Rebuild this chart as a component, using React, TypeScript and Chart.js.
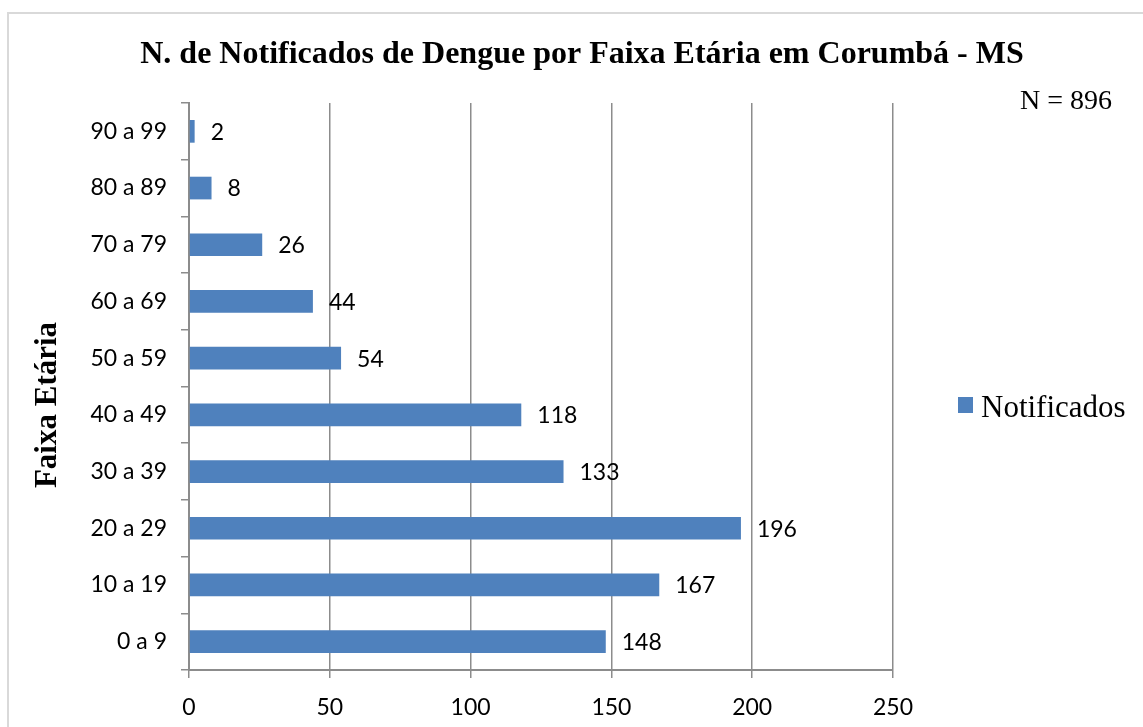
import React, { useEffect, useRef } from "react";
import { Chart, registerables } from "chart.js";

Chart.register(...registerables);

const categories = ["0 a 9", "10 a 19", "20 a 29", "30 a 39", "40 a 49", "50 a 59", "60 a 69", "70 a 79", "80 a 89", "90 a 99"];
const notificados = [148, 167, 196, 133, 118, 54, 44, 26, 8, 2];
const seriesLabel = "Notificados";
const titleText = "N. de Notificados de Dengue por Faixa Etária em Corumbá - MS";
const nText = "N = 896";
const yTitle = "Faixa Etária";
const xMin = 0;
const xMax = 250;
const xStep = 50;

const BAR = "#4F81BD";
const GRID = "#8C8C8C";
const TICKFONT = "Lato, 'Open Sans', sans-serif";
const SERIF = "'Liberation Serif', 'Times New Roman', serif";

const decor = {
  id: "decor",
  beforeDraw(chart: any) {
    const ctx = chart.ctx;
    ctx.save();
    ctx.fillStyle = "#ffffff";
    ctx.fillRect(0, 0, chart.width, chart.height);
    ctx.strokeStyle = "#D9D9D9";
    ctx.lineWidth = 2;
    ctx.beginPath();
    ctx.moveTo(8, chart.height + 5);
    ctx.lineTo(8, 13);
    ctx.lineTo(chart.width + 5, 13);
    ctx.stroke();
    ctx.restore();
  },
  afterDraw(chart: any) {
    const ctx = chart.ctx;
    ctx.save();
    // title
    ctx.fillStyle = "#000";
    ctx.font = `bold 32px ${SERIF}`;
    ctx.textAlign = "center";
    ctx.textBaseline = "alphabetic";
    ctx.fillText(titleText, 582, 63);
    // N = 896
    ctx.font = `28px ${SERIF}`;
    ctx.textAlign = "right";
    ctx.fillText(nText, 1112, 109);
    // legend
    const ds = chart.data.datasets[0];
    ctx.fillStyle = ds.backgroundColor;
    ctx.fillRect(958, 397, 15, 16);
    ctx.fillStyle = "#000";
    ctx.font = `31px ${SERIF}`;
    ctx.textAlign = "left";
    ctx.fillText(ds.label, 981, 417);
    // y title
    ctx.save();
    ctx.translate(56, 405);
    ctx.rotate(-Math.PI / 2);
    ctx.font = `bold 31px ${SERIF}`;
    ctx.textAlign = "center";
    ctx.fillText(yTitle, 0, 0);
    ctx.restore();
    // data labels
    const meta = chart.getDatasetMeta(0);
    ctx.font = `23px ${TICKFONT}`;
    ctx.textAlign = "left";
    ctx.textBaseline = "middle";
    meta.data.forEach((bar: any, i: number) => {
      ctx.fillText(String(ds.data[i]), bar.x + 16, bar.y + 1);
    });
    ctx.restore();
  },
};

export default function App() {
  const ref = useRef<HTMLCanvasElement | null>(null);
  useEffect(() => {
    if (!ref.current) return;
    const chart = new Chart(ref.current, {
      type: "bar",
      data: {
        labels: categories,
        datasets: [
          {
            label: seriesLabel,
            data: notificados,
            backgroundColor: BAR,
            borderWidth: 0,
            categoryPercentage: 1,
            barPercentage: 0.4,
          },
        ],
      },
      options: {
        indexAxis: "y",
        responsive: false,
        animation: false,
        layout: { padding: { top: 103, right: 250, left: 0, bottom: 0 } },
        plugins: {
          legend: { display: false },
          title: { display: false },
          tooltip: { enabled: false },
        },
        scales: {
          x: {
            type: "linear",
            min: xMin,
            max: xMax,
            ticks: { stepSize: xStep, color: "#000", font: { family: TICKFONT, size: 23 }, padding: 16 },
            grid: { color: GRID, lineWidth: 1.5, tickLength: 8, drawOnChartArea: true },
            border: { color: GRID, width: 2 },
            afterFit: (s: any) => { s.height = 57; },
          },
          y: {
            type: "category",
            reverse: true,
            offset: true,
            ticks: { color: "#000", font: { family: TICKFONT, size: 23 }, padding: 14 },
            grid: { offset: true, color: GRID, lineWidth: 1.5, tickLength: 8, drawOnChartArea: false },
            border: { color: GRID, width: 2 },
            afterFit: (s: any) => { s.width = 189; },
          },
        },
      },
      plugins: [decor],
    });
    return () => chart.destroy();
  }, []);
  return (
    <div style={{ position: "fixed", left: 0, top: 0, width: 1143, height: 727, background: "#fff" }}>
      <canvas ref={ref} width={1143} height={727} />
    </div>
  );
}
